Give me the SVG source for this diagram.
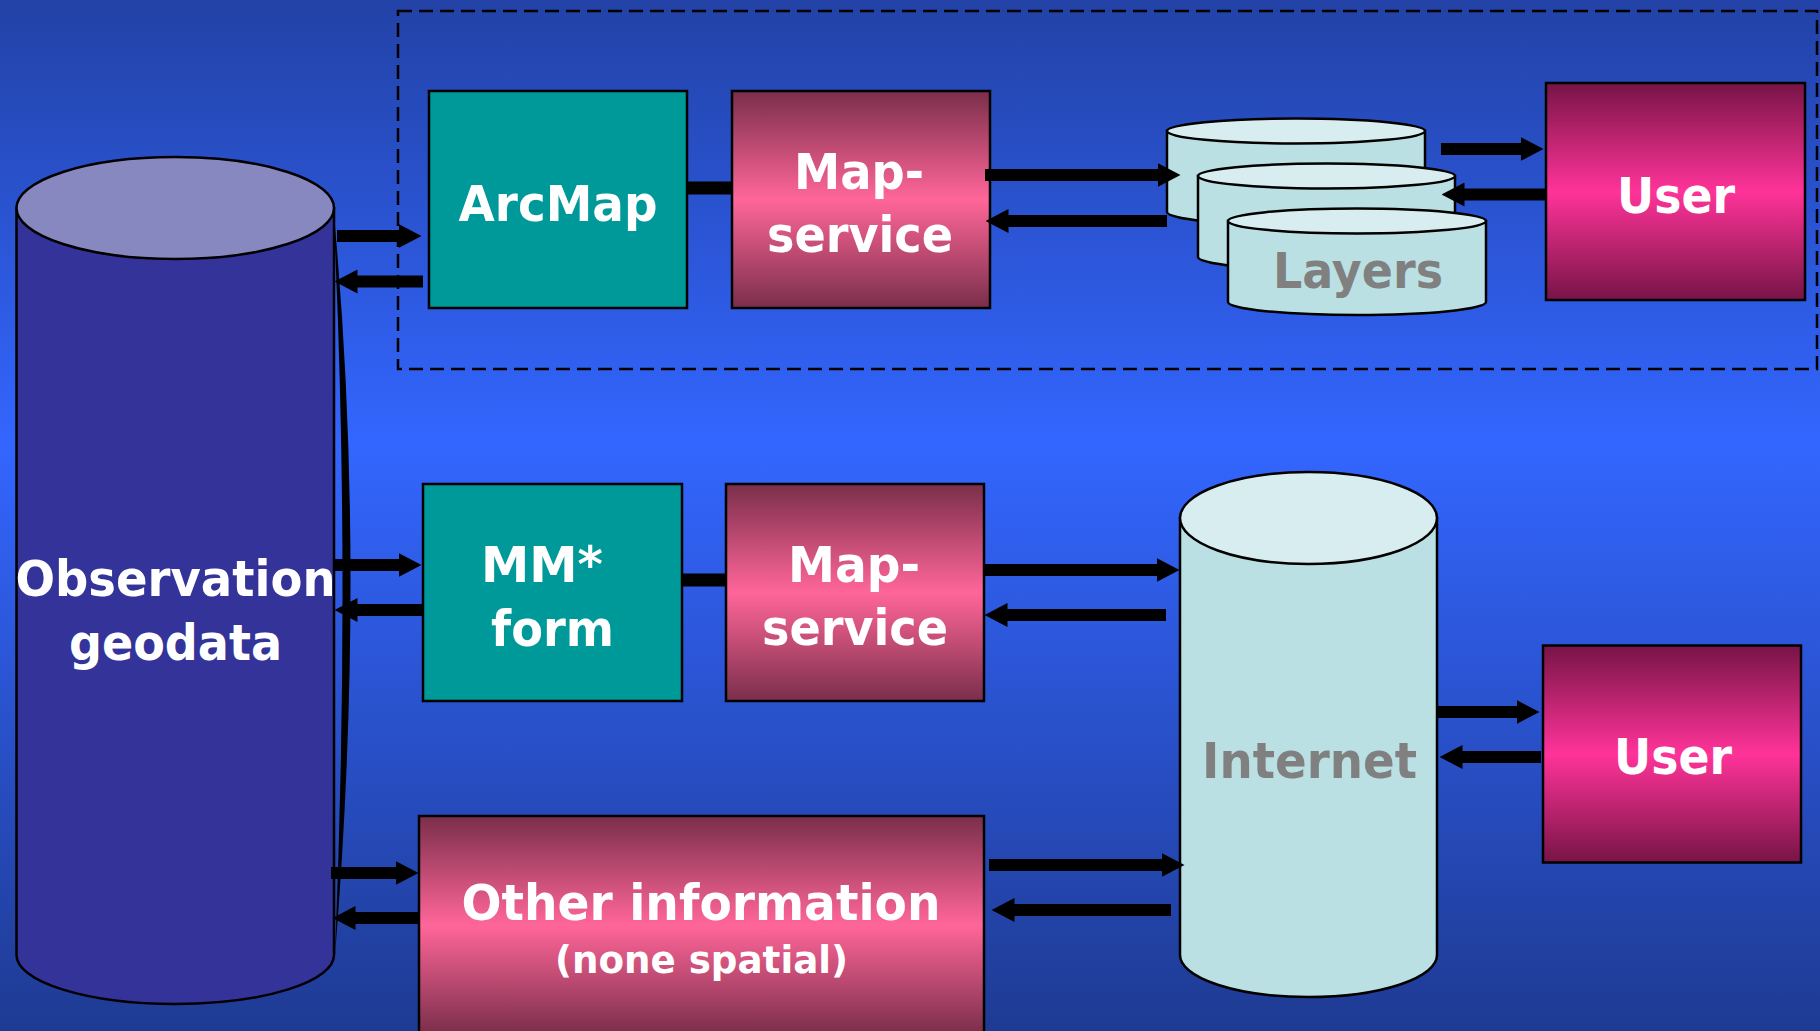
<svg xmlns="http://www.w3.org/2000/svg" width="1820" height="1031" viewBox="0 0 1820 1031">
  <defs>
    <linearGradient id="bg" x1="0" y1="0" x2="0" y2="1">
      <stop offset="0" stop-color="#2242A6"/>
      <stop offset="0.43" stop-color="#3366FF"/>
      <stop offset="1" stop-color="#1E3A92"/>
    </linearGradient>
    <linearGradient id="gMap" x1="0" y1="0" x2="0" y2="1">
      <stop offset="0" stop-color="#7A2E4A"/>
      <stop offset="0.5" stop-color="#FF6699"/>
      <stop offset="1" stop-color="#7A2E4A"/>
    </linearGradient>
    <linearGradient id="gUser" x1="0" y1="0" x2="0" y2="1">
      <stop offset="0" stop-color="#771446"/>
      <stop offset="0.5" stop-color="#FF3399"/>
      <stop offset="1" stop-color="#771446"/>
    </linearGradient>
    <marker id="ah" markerUnits="userSpaceOnUse" viewBox="0 0 23 24" markerWidth="23" markerHeight="24" refX="0.5" refY="12" orient="auto">
      <path d="M0,0 L23,12 L0,24 Z" fill="#000"/>
    </marker>
    <style>
      .box { stroke: #000; stroke-width: 2.5; }
      .teal { fill: #009999; }
      .map { fill: url(#gMap); }
      .user { fill: url(#gUser); }
      .cylBody { fill: #BAE0E3; stroke: #000; stroke-width: 2.5; }
      .cylTop { fill: #D8EDEF; stroke: #000; stroke-width: 2.5; }
      .lbl { font-family: "DejaVu Sans", Verdana, sans-serif; font-weight: bold; font-size: 50px; fill: #FFFFFF; text-anchor: middle; }
      .grey { fill: #808080; }
      .arr { stroke: #000; stroke-width: 12; fill: none; marker-end: url(#ah); }
      .link { stroke: #000; stroke-width: 13; fill: none; }
    </style>
  </defs>

  <rect x="0" y="0" width="1820" height="1031" fill="url(#bg)"/>

  <rect id="group-frame" x="398" y="11" width="1419" height="358" fill="none" stroke="#000" stroke-width="2.5" stroke-dasharray="14 7"/>

  <g id="node-observation">
    <path d="M16.5,208 L16.5,955 A158.75,49 0 0 0 334,955 L334,208 Z" fill="#333399" stroke="#000" stroke-width="2.5"/>
    <ellipse cx="175.25" cy="208" rx="158.75" ry="51" fill="#8888C0" stroke="#000" stroke-width="2.5"/>
    <text class="lbl" x="175.5" y="596" textLength="320" lengthAdjust="spacingAndGlyphs">Observation</text>
    <text class="lbl" x="175.5" y="659.5" textLength="213" lengthAdjust="spacingAndGlyphs">geodata</text>
  </g>

  <g id="node-arcmap">
    <rect class="box teal" x="429" y="91" width="258" height="217"/>
    <text class="lbl" x="558" y="221" textLength="199" lengthAdjust="spacingAndGlyphs">ArcMap</text>
  </g>

  <g id="node-mapservice-1">
    <rect class="box map" x="732" y="91" width="258" height="217"/>
    <text class="lbl" x="859" y="189" textLength="130" lengthAdjust="spacingAndGlyphs">Map-</text>
    <text class="lbl" x="860" y="251.5" textLength="186" lengthAdjust="spacingAndGlyphs">service</text>
  </g>

  <g id="node-layers">
    <path class="cylBody" d="M1167,131 L1167,212 A129,13 0 0 0 1425,212 L1425,131 Z"/>
    <ellipse class="cylTop" cx="1296" cy="131" rx="129" ry="12.5"/>
    <path class="cylBody" d="M1198,176 L1198,257 A128.5,13 0 0 0 1455,257 L1455,176 Z"/>
    <ellipse class="cylTop" cx="1326.5" cy="176" rx="128.5" ry="12.5"/>
    <path class="cylBody" d="M1228,221 L1228,302 A129,13 0 0 0 1486,302 L1486,221 Z"/>
    <ellipse class="cylTop" cx="1357" cy="221" rx="129" ry="12.5"/>
    <text class="lbl grey" x="1358" y="288" textLength="170" lengthAdjust="spacingAndGlyphs">Layers</text>
  </g>

  <g id="node-user-1">
    <rect class="box user" x="1546" y="83" width="259" height="217"/>
    <text class="lbl" x="1676" y="213" textLength="118" lengthAdjust="spacingAndGlyphs">User</text>
  </g>

  <g id="node-mmform">
    <rect class="box teal" x="423" y="484" width="259" height="217"/>
    <text class="lbl" x="542" y="582" textLength="122" lengthAdjust="spacingAndGlyphs">MM*</text>
    <text class="lbl" x="552.5" y="645.5" textLength="123" lengthAdjust="spacingAndGlyphs">form</text>
  </g>

  <g id="node-mapservice-2">
    <rect class="box map" x="726" y="484" width="258" height="217"/>
    <text class="lbl" x="854" y="582" textLength="132" lengthAdjust="spacingAndGlyphs">Map-</text>
    <text class="lbl" x="855" y="645" textLength="186" lengthAdjust="spacingAndGlyphs">service</text>
  </g>

  <g id="node-internet">
    <path class="cylBody" d="M1180,518 L1180,955 A128.5,42 0 0 0 1437,955 L1437,518 Z"/>
    <ellipse class="cylTop" cx="1308.5" cy="518" rx="128.5" ry="46"/>
    <text class="lbl grey" x="1309.5" y="778" textLength="215" lengthAdjust="spacingAndGlyphs">Internet</text>
  </g>

  <g id="node-user-2">
    <rect class="box user" x="1543" y="645.5" width="258" height="217"/>
    <text class="lbl" x="1673" y="774" textLength="118" lengthAdjust="spacingAndGlyphs">User</text>
  </g>

  <g id="node-other">
    <rect class="box map" x="419" y="816" width="565" height="218"/>
    <text class="lbl" x="701" y="920" textLength="479" lengthAdjust="spacingAndGlyphs">Other information</text>
    <text class="lbl" x="701.5" y="973" style="font-size:37px" textLength="293" lengthAdjust="spacingAndGlyphs">(none spatial)</text>
  </g>

  <g id="connectors">
    <path d="M333,205 Q367,560 335,955 Q351,560 333,205 Z" fill="#000"/>
    <line class="link" x1="687" y1="188" x2="732" y2="188"/>
    <line class="link" x1="682" y1="580" x2="726" y2="580"/>

    <line class="arr" x1="337" y1="236" x2="399" y2="236"/>
    <line class="arr" x1="423" y1="281.5" x2="357" y2="281.5"/>
    <line class="arr" x1="985" y1="175" x2="1158" y2="175"/>
    <line class="arr" x1="1167" y1="221" x2="1008" y2="221"/>
    <line class="arr" x1="1441" y1="149" x2="1521" y2="149"/>
    <line class="arr" x1="1545" y1="194.5" x2="1464" y2="194.5"/>

    <line class="arr" x1="335" y1="565" x2="399" y2="565"/>
    <line class="arr" x1="423" y1="610" x2="357" y2="610"/>
    <line class="arr" x1="984" y1="570" x2="1157" y2="570"/>
    <line class="arr" x1="1166" y1="615" x2="1007" y2="615"/>
    <line class="arr" x1="1437" y1="712" x2="1517" y2="712"/>
    <line class="arr" x1="1541" y1="757" x2="1462" y2="757"/>

    <line class="arr" x1="331" y1="873" x2="396" y2="873"/>
    <line class="arr" x1="420" y1="918" x2="355" y2="918"/>
    <line class="arr" x1="989" y1="865" x2="1162" y2="865"/>
    <line class="arr" x1="1171" y1="910" x2="1014" y2="910"/>
  </g>
</svg>
